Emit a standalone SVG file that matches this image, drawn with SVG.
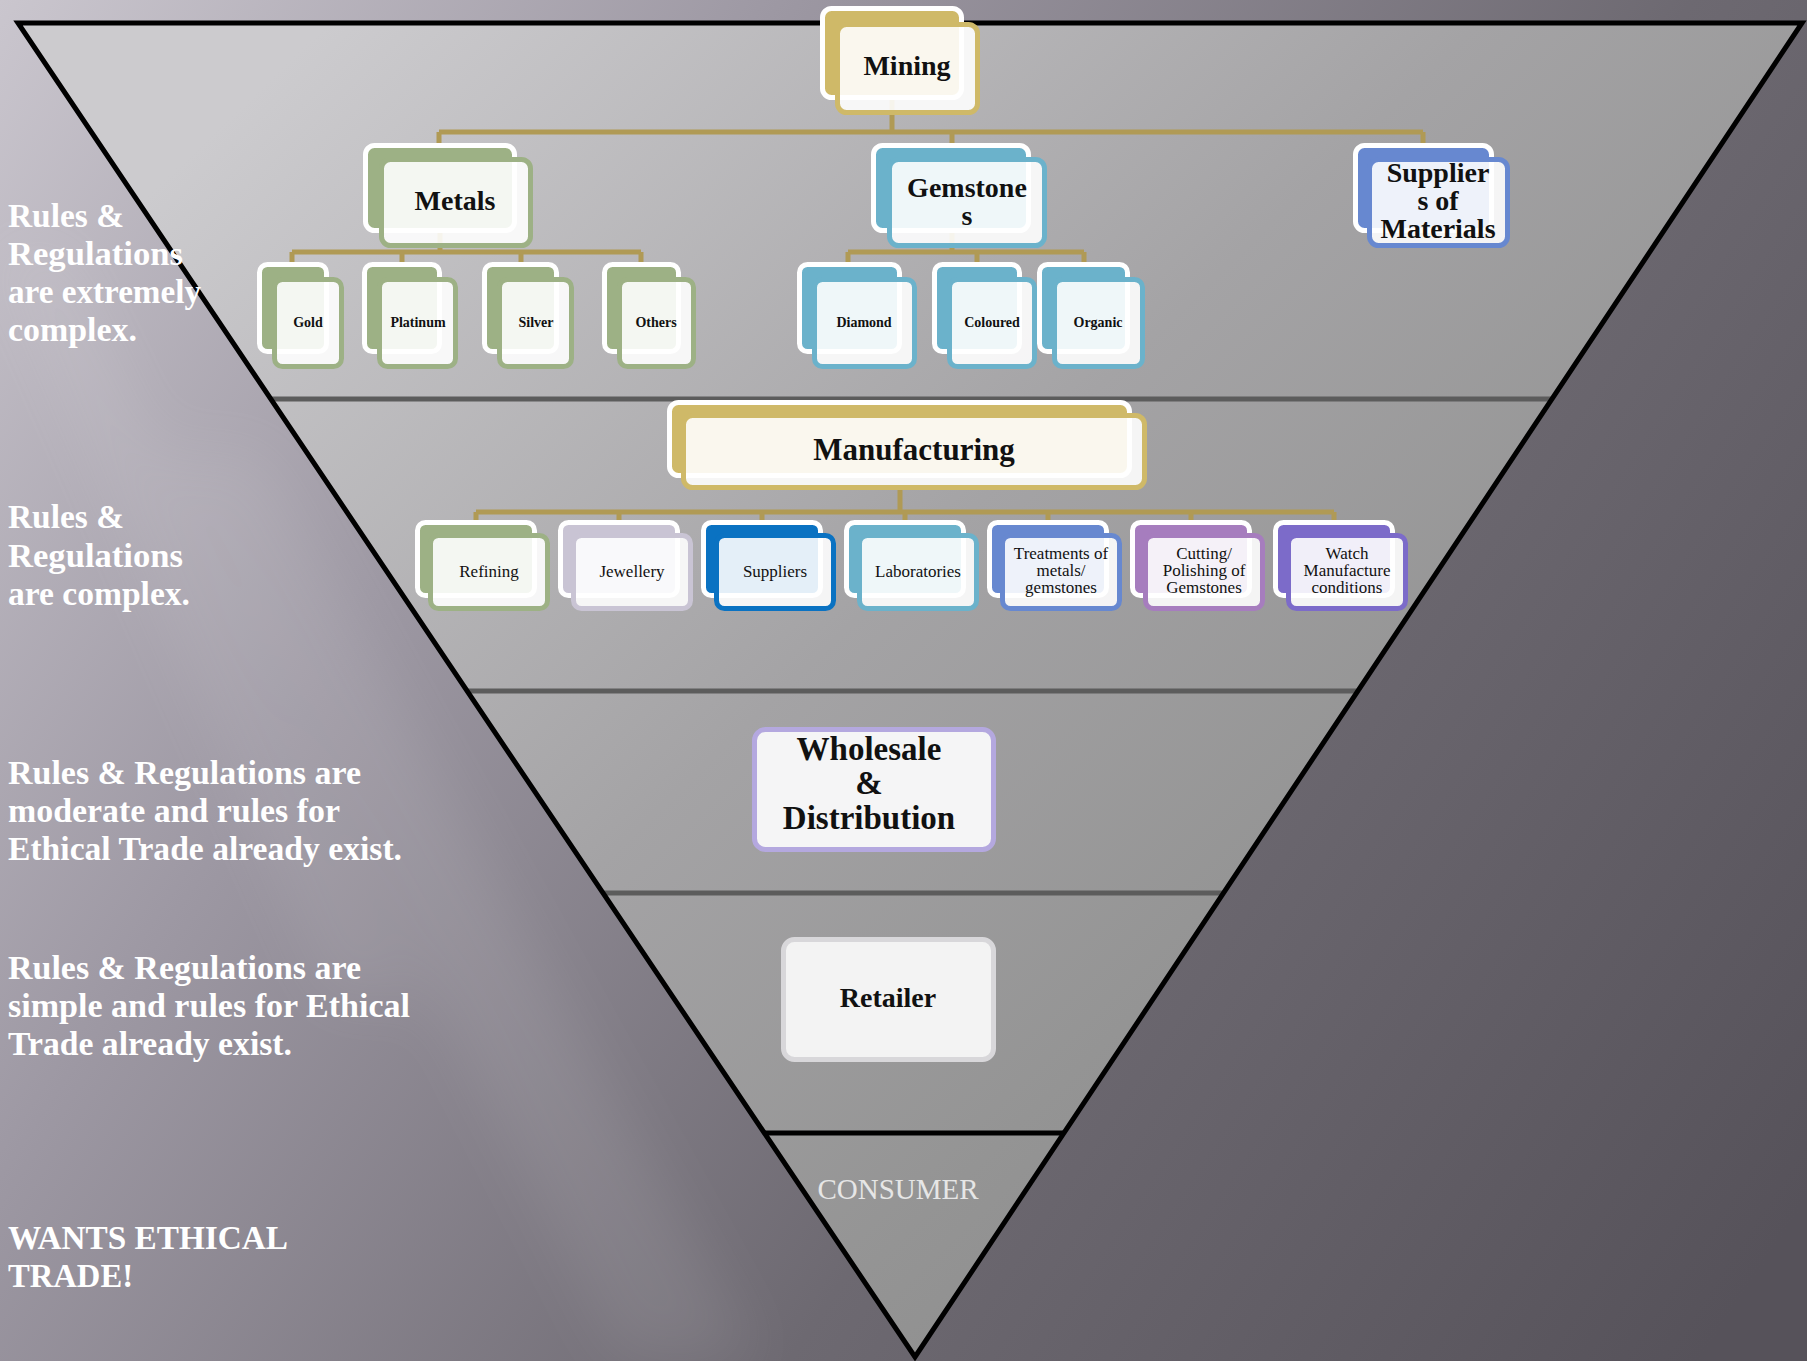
<svg xmlns="http://www.w3.org/2000/svg" width="1807" height="1361" viewBox="0 0 1807 1361">
<defs>
<linearGradient id="bg" gradientUnits="userSpaceOnUse" x1="0" y1="0" x2="1807" y2="1200">
<stop offset="0" stop-color="#cac6ce"/>
<stop offset="0.3" stop-color="#9d98a3"/>
<stop offset="0.65" stop-color="#6d6971"/>
<stop offset="1" stop-color="#56525a"/>
</linearGradient>
<linearGradient id="tri" gradientUnits="userSpaceOnUse" x1="300" y1="50" x2="1400" y2="1200">
<stop offset="0" stop-color="#cccbce"/>
<stop offset="0.5" stop-color="#a4a3a5"/>
<stop offset="0.8" stop-color="#949494"/>
<stop offset="1" stop-color="#8b8b8b"/>
</linearGradient>
<filter id="blur" x="-20%" y="-20%" width="140%" height="140%"><feGaussianBlur stdDeviation="30"/></filter>
<style>
.bk{stroke:#ffffff;stroke-width:5}
.fr{fill:#ffffff;fill-opacity:0.89;stroke-width:5}
.gold .bk{fill:#cfb968}.gold .fr{stroke:#cfb968}
.green .bk{fill:#9db185}.green .fr{stroke:#9db185}
.teal .bk{fill:#6bb2cb}.teal .fr{stroke:#6bb2cb}
.peri .bk{fill:#6788d0}.peri .fr{stroke:#6788d0}
.lav .bk{fill:#c9c4d4}.lav .fr{stroke:#c9c4d4}
.blue .bk{fill:#0a72c2}.blue .fr{stroke:#0a72c2}
.purp .bk{fill:#a67dbe}.purp .fr{stroke:#a67dbe}
.viol .bk{fill:#7c6bc9}.viol .fr{stroke:#7c6bc9}
.lbl{font-family:"Liberation Serif","Times New Roman",serif;fill:#111111;text-anchor:middle}
.big{font-size:28px;font-weight:bold}
.leaf{font-size:14px;font-weight:bold}
.kid{font-size:17px}
.side{font-family:"Liberation Serif","Times New Roman",serif;font-size:34px;font-weight:bold;fill:#ffffff}
.conn{stroke:#b09a55;stroke-width:5;fill:none}
.sep{stroke:#5c5c5c;stroke-width:5}
</style>
</defs>

<rect x="0" y="0" width="1807" height="1361" fill="url(#bg)"/>
<g filter="url(#blur)" opacity="0.08" fill="#ffffff">
<polygon points="150,450 260,450 760,1361 620,1361"/>
<polygon points="0,250 60,250 420,1000 330,1000"/>
</g>

<g id="pyramid">
<polygon points="18,23 1802,23 915,1357" fill="url(#tri)"/>
<line class="sep" x1="271" y1="399" x2="1552" y2="399"/>
<line class="sep" x1="467" y1="691" x2="1358" y2="691"/>
<line class="sep" x1="603" y1="893" x2="1223" y2="893"/>
<line x1="765" y1="1133" x2="1063" y2="1133" stroke="#000000" stroke-width="5"/>
<polygon points="18,23 1802,23 915,1357" fill="none" stroke="#000000" stroke-width="5" stroke-linejoin="miter"/>
</g>

<g id="side-texts">
<text class="side" x="8" y="227" textLength="116" lengthAdjust="spacingAndGlyphs">Rules &amp;</text>
<text class="side" x="8" y="265" textLength="175" lengthAdjust="spacingAndGlyphs">Regulations</text>
<text class="side" x="8" y="303" textLength="193" lengthAdjust="spacingAndGlyphs">are extremely</text>
<text class="side" x="8" y="341" textLength="129" lengthAdjust="spacingAndGlyphs">complex.</text>
<text class="side" x="8" y="528" textLength="116" lengthAdjust="spacingAndGlyphs">Rules &amp;</text>
<text class="side" x="8" y="567" textLength="175" lengthAdjust="spacingAndGlyphs">Regulations</text>
<text class="side" x="8" y="605" textLength="182" lengthAdjust="spacingAndGlyphs">are complex.</text>
<text class="side" x="8" y="784" textLength="353" lengthAdjust="spacingAndGlyphs">Rules &amp; Regulations are</text>
<text class="side" x="8" y="822" textLength="332" lengthAdjust="spacingAndGlyphs">moderate and rules for</text>
<text class="side" x="8" y="860" textLength="394" lengthAdjust="spacingAndGlyphs">Ethical Trade already exist.</text>
<text class="side" x="8" y="979" textLength="353" lengthAdjust="spacingAndGlyphs">Rules &amp; Regulations are</text>
<text class="side" x="8" y="1017" textLength="402" lengthAdjust="spacingAndGlyphs">simple and rules for Ethical</text>
<text class="side" x="8" y="1055" textLength="284" lengthAdjust="spacingAndGlyphs">Trade already exist.</text>
<text class="side" x="8" y="1249" textLength="280" lengthAdjust="spacingAndGlyphs">WANTS ETHICAL</text>
<text class="side" x="8" y="1287" textLength="125" lengthAdjust="spacingAndGlyphs">TRADE!</text>
</g>

<g id="connectors">
<path class="conn" d="M892,100 V132 M439,132 H1423 M439,132 V148 M952,132 V148 M1423,132 V148"/>
<path class="conn" d="M440,233 V252 M292,252 H641 M292,252 V266 M402,252 V266 M521,252 V266 M641,252 V266"/>
<path class="conn" d="M952,233 V252 M848,252 H1084 M848,252 V266 M977,252 V266 M1084,252 V266"/>
<path class="conn" d="M900,490 V512 M476,512 H1334 M476,512 V526 M619,512 V526 M762,512 V526 M905,512 V526 M1048,512 V526 M1191,512 V526 M1334,512 V526"/>
</g>

<g id="mining" class="gold">
<rect class="bk" x="822.5" y="8.5" width="139" height="89" rx="9"/>
<rect class="fr" x="837.5" y="24.5" width="140" height="88" rx="9"/>
<text class="lbl big" x="907" y="75">Mining</text>
</g>

<g id="metals" class="green">
<rect class="bk" x="365.5" y="145.5" width="149" height="85" rx="9"/>
<rect class="fr" x="381.5" y="159.5" width="149" height="86" rx="9"/>
<text class="lbl big" x="455" y="210">Metals</text>
</g>

<g id="gemstones" class="teal">
<rect class="bk" x="873.5" y="145.5" width="155" height="85" rx="9"/>
<rect class="fr" x="889.5" y="159.5" width="155" height="86" rx="9"/>
<text class="lbl big" x="967" y="197">Gemstone</text>
<text class="lbl big" x="967" y="225">s</text>
</g>

<g id="suppliers-of-materials" class="peri">
<rect class="bk" x="1355.5" y="145.5" width="136" height="85" rx="9"/>
<rect class="fr" x="1369.5" y="159.5" width="138" height="86" rx="9"/>
<text class="lbl big" x="1438" y="182">Supplier</text>
<text class="lbl big" x="1438" y="210">s of</text>
<text class="lbl big" x="1438" y="238">Materials</text>
</g>

<g id="gold" class="green">
<rect class="bk" x="259.5" y="264.5" width="67" height="87" rx="8"/>
<rect class="fr" x="274.5" y="279.5" width="67" height="87" rx="8"/>
<text class="lbl leaf" x="308" y="327">Gold</text>
</g>
<g id="platinum" class="green">
<rect class="bk" x="364.5" y="264.5" width="75" height="87" rx="8"/>
<rect class="fr" x="379.5" y="279.5" width="76" height="87" rx="8"/>
<text class="lbl leaf" x="418" y="327">Platinum</text>
</g>
<g id="silver" class="green">
<rect class="bk" x="484.5" y="264.5" width="72" height="87" rx="8"/>
<rect class="fr" x="499.5" y="279.5" width="72" height="87" rx="8"/>
<text class="lbl leaf" x="536" y="327">Silver</text>
</g>
<g id="others" class="green">
<rect class="bk" x="604.5" y="264.5" width="74" height="87" rx="8"/>
<rect class="fr" x="619.5" y="279.5" width="74" height="87" rx="8"/>
<text class="lbl leaf" x="656" y="327">Others</text>
</g>

<g id="diamond" class="teal">
<rect class="bk" x="799.5" y="264.5" width="100" height="87" rx="8"/>
<rect class="fr" x="814.5" y="279.5" width="100" height="87" rx="8"/>
<text class="lbl leaf" x="864" y="327">Diamond</text>
</g>
<g id="coloured" class="teal">
<rect class="bk" x="934.5" y="264.5" width="85" height="87" rx="8"/>
<rect class="fr" x="949.5" y="279.5" width="85" height="87" rx="8"/>
<text class="lbl leaf" x="992" y="327">Coloured</text>
</g>
<g id="organic" class="teal">
<rect class="bk" x="1039.5" y="264.5" width="88" height="87" rx="8"/>
<rect class="fr" x="1054.5" y="279.5" width="88" height="87" rx="8"/>
<text class="lbl leaf" x="1098" y="327">Organic</text>
</g>

<g id="manufacturing" class="gold">
<rect class="bk" x="669.5" y="402.5" width="460" height="73" rx="9"/>
<rect class="fr" x="683.5" y="415.5" width="461" height="72" rx="9"/>
<text class="lbl" x="914" y="460" font-size="31" font-weight="bold">Manufacturing</text>
</g>

<g id="refining" class="green">
<rect class="bk" x="417.5" y="522.5" width="117" height="73" rx="8"/>
<rect class="fr" x="430.5" y="535.5" width="117" height="73" rx="8"/>
<text class="lbl kid" x="489" y="577">Refining</text>
</g>
<g id="jewellery" class="lav">
<rect class="bk" x="560.5" y="522.5" width="117" height="73" rx="8"/>
<rect class="fr" x="573.5" y="535.5" width="117" height="73" rx="8"/>
<text class="lbl kid" x="632" y="577">Jewellery</text>
</g>
<g id="suppliers" class="blue">
<rect class="bk" x="703.5" y="522.5" width="117" height="73" rx="8"/>
<rect class="fr" x="716.5" y="535.5" width="117" height="73" rx="8"/>
<text class="lbl kid" x="775" y="577">Suppliers</text>
</g>
<g id="laboratories" class="teal">
<rect class="bk" x="846.5" y="522.5" width="117" height="73" rx="8"/>
<rect class="fr" x="859.5" y="535.5" width="117" height="73" rx="8"/>
<text class="lbl kid" x="918" y="577">Laboratories</text>
</g>
<g id="treatments" class="peri">
<rect class="bk" x="989.5" y="522.5" width="117" height="73" rx="8"/>
<rect class="fr" x="1002.5" y="535.5" width="117" height="73" rx="8"/>
<text class="lbl kid" x="1061" y="559">Treatments of</text>
<text class="lbl kid" x="1061" y="576">metals/</text>
<text class="lbl kid" x="1061" y="593">gemstones</text>
</g>
<g id="cutting" class="purp">
<rect class="bk" x="1132.5" y="522.5" width="117" height="73" rx="8"/>
<rect class="fr" x="1145.5" y="535.5" width="117" height="73" rx="8"/>
<text class="lbl kid" x="1204" y="559">Cutting/</text>
<text class="lbl kid" x="1204" y="576">Polishing of</text>
<text class="lbl kid" x="1204" y="593">Gemstones</text>
</g>
<g id="watch" class="viol">
<rect class="bk" x="1275.5" y="522.5" width="117" height="73" rx="8"/>
<rect class="fr" x="1288.5" y="535.5" width="117" height="73" rx="8"/>
<text class="lbl kid" x="1347" y="559">Watch</text>
<text class="lbl kid" x="1347" y="576">Manufacture</text>
<text class="lbl kid" x="1347" y="593">conditions</text>
</g>

<g id="wholesale">
<rect x="754.5" y="729.5" width="239" height="120" rx="11" fill="#f5f5f6" stroke="#b4a8df" stroke-width="5"/>
<text class="lbl" x="869" y="760" font-size="33" font-weight="bold">Wholesale</text>
<text class="lbl" x="869" y="794" font-size="33" font-weight="bold">&amp;</text>
<text class="lbl" x="869" y="829" font-size="33" font-weight="bold">Distribution</text>
</g>

<g id="retailer">
<rect x="783.5" y="939.5" width="210" height="120" rx="11" fill="#f3f3f3" stroke="#d8d7da" stroke-width="5"/>
<text class="lbl big" x="888" y="1007">Retailer</text>
</g>

<g id="consumer">
<text x="898" y="1199" font-family="Liberation Serif, Times New Roman, serif" font-size="29" fill="#e6e6e6" text-anchor="middle">CONSUMER</text>
</g>
</svg>
